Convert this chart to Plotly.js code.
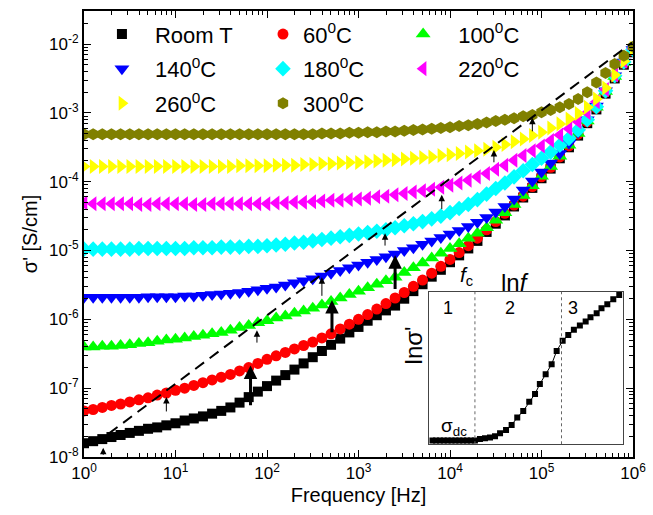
<!DOCTYPE html>
<html><head><meta charset="utf-8">
<script src="https://cdn.plot.ly/plotly-3.0.1.min.js"></script>
<style>html,body{margin:0;padding:0;background:#fff}#chart{width:653px;height:515px}</style>
</head><body><div id="chart"></div><script>
// log10 of frequency [Hz]
const logF = [0.0,0.1,0.2,0.3,0.4,0.5,0.6,0.7,0.8,0.9,1.0,1.1,1.2,1.3,1.4,1.5,1.6,1.7,1.8,1.9,2.0,2.1,2.2,2.3,2.4,2.5,2.6,2.7,2.8,2.9,3.0,3.1,3.2,3.3,3.4,3.5,3.6,3.7,3.8,3.9,4.0,4.1,4.2,4.3,4.4,4.5,4.6,4.7,4.8,4.9,5.0,5.1,5.2,5.3,5.4,5.5,5.6,5.7,5.8,5.9,6.0];
// log10 of sigma' [S/cm]
const roomT = [-7.80,-7.77,-7.74,-7.71,-7.68,-7.65,-7.62,-7.59,-7.57,-7.54,-7.51,-7.47,-7.44,-7.41,-7.37,-7.33,-7.28,-7.21,-7.13,-7.05,-6.97,-6.89,-6.81,-6.73,-6.64,-6.55,-6.46,-6.37,-6.28,-6.19,-6.11,-6.02,-5.94,-5.87,-5.80,-5.70,-5.59,-5.49,-5.38,-5.28,-5.17,-5.07,-4.97,-4.86,-4.73,-4.61,-4.49,-4.36,-4.23,-4.09,-3.95,-3.81,-3.66,-3.50,-3.33,-3.15,-2.95,-2.72,-2.50,-2.30,-2.12];
const t60 = [-7.33,-7.31,-7.28,-7.25,-7.23,-7.20,-7.17,-7.14,-7.10,-7.07,-7.03,-7.00,-6.96,-6.92,-6.88,-6.84,-6.80,-6.75,-6.70,-6.64,-6.58,-6.53,-6.48,-6.43,-6.38,-6.33,-6.27,-6.21,-6.14,-6.07,-6.00,-5.93,-5.85,-5.77,-5.69,-5.61,-5.52,-5.43,-5.33,-5.23,-5.13,-5.03,-4.93,-4.82,-4.70,-4.58,-4.46,-4.34,-4.21,-4.07,-3.93,-3.79,-3.64,-3.48,-3.31,-3.13,-2.93,-2.70,-2.48,-2.28,-2.10];
const t100 = [-6.40,-6.40,-6.39,-6.39,-6.38,-6.37,-6.35,-6.34,-6.32,-6.30,-6.29,-6.27,-6.25,-6.23,-6.21,-6.19,-6.16,-6.12,-6.09,-6.05,-6.02,-5.98,-5.95,-5.91,-5.88,-5.84,-5.79,-5.74,-5.69,-5.64,-5.59,-5.54,-5.49,-5.44,-5.39,-5.32,-5.25,-5.18,-5.11,-5.04,-4.97,-4.90,-4.82,-4.75,-4.67,-4.56,-4.45,-4.33,-4.20,-4.06,-3.92,-3.78,-3.63,-3.47,-3.30,-3.12,-2.92,-2.69,-2.47,-2.27,-2.09];
const t140 = [-5.68,-5.68,-5.68,-5.68,-5.68,-5.68,-5.68,-5.67,-5.67,-5.67,-5.67,-5.66,-5.66,-5.65,-5.64,-5.63,-5.62,-5.61,-5.59,-5.57,-5.55,-5.53,-5.50,-5.47,-5.44,-5.41,-5.37,-5.33,-5.29,-5.25,-5.21,-5.17,-5.13,-5.09,-5.05,-5.00,-4.96,-4.91,-4.86,-4.81,-4.76,-4.71,-4.65,-4.59,-4.52,-4.44,-4.36,-4.25,-4.12,-3.99,-3.86,-3.73,-3.59,-3.44,-3.28,-3.10,-2.90,-2.68,-2.46,-2.26,-2.08];
const t180 = [-4.98,-4.98,-4.98,-4.98,-4.98,-4.98,-4.97,-4.97,-4.97,-4.97,-4.97,-4.97,-4.96,-4.96,-4.96,-4.95,-4.95,-4.95,-4.94,-4.94,-4.93,-4.92,-4.91,-4.89,-4.88,-4.86,-4.84,-4.82,-4.80,-4.78,-4.76,-4.74,-4.72,-4.70,-4.67,-4.64,-4.61,-4.58,-4.54,-4.50,-4.45,-4.39,-4.33,-4.26,-4.18,-4.10,-4.02,-3.93,-3.84,-3.75,-3.66,-3.57,-3.47,-3.37,-3.25,-3.10,-2.91,-2.68,-2.46,-2.26,-2.08];
const t220 = [-4.31,-4.32,-4.32,-4.32,-4.32,-4.32,-4.33,-4.33,-4.32,-4.32,-4.32,-4.32,-4.33,-4.33,-4.32,-4.32,-4.32,-4.32,-4.32,-4.32,-4.32,-4.31,-4.31,-4.30,-4.30,-4.29,-4.28,-4.27,-4.27,-4.26,-4.25,-4.24,-4.22,-4.21,-4.19,-4.17,-4.15,-4.13,-4.11,-4.08,-4.05,-4.02,-3.98,-3.93,-3.88,-3.82,-3.76,-3.69,-3.62,-3.55,-3.48,-3.40,-3.32,-3.23,-3.13,-3.00,-2.84,-2.66,-2.45,-2.25,-2.07];
const t260 = [-3.78,-3.78,-3.78,-3.78,-3.78,-3.78,-3.78,-3.78,-3.78,-3.78,-3.78,-3.78,-3.78,-3.78,-3.78,-3.78,-3.78,-3.77,-3.77,-3.77,-3.77,-3.76,-3.76,-3.76,-3.75,-3.75,-3.74,-3.74,-3.73,-3.72,-3.72,-3.71,-3.70,-3.69,-3.68,-3.67,-3.66,-3.65,-3.64,-3.62,-3.61,-3.59,-3.57,-3.55,-3.53,-3.50,-3.46,-3.42,-3.38,-3.33,-3.28,-3.22,-3.16,-3.09,-3.01,-2.92,-2.80,-2.64,-2.45,-2.25,-2.06];
const t300 = [-3.31,-3.31,-3.31,-3.31,-3.31,-3.31,-3.31,-3.31,-3.31,-3.31,-3.31,-3.31,-3.31,-3.31,-3.31,-3.31,-3.31,-3.31,-3.31,-3.31,-3.31,-3.31,-3.31,-3.31,-3.31,-3.31,-3.30,-3.30,-3.30,-3.29,-3.29,-3.28,-3.28,-3.27,-3.27,-3.26,-3.25,-3.24,-3.23,-3.22,-3.21,-3.19,-3.18,-3.16,-3.14,-3.12,-3.10,-3.08,-3.05,-3.03,-2.99,-2.96,-2.92,-2.87,-2.80,-2.70,-2.56,-2.42,-2.29,-2.17,-2.04];

const seriesNames = ['Room T','60<sup>0</sup>C','100<sup>0</sup>C','140<sup>0</sup>C','180<sup>0</sup>C','220<sup>0</sup>C','260<sup>0</sup>C','300<sup>0</sup>C'];
const seriesData = [roomT, t60, t100, t140, t180, t220, t260, t300];

// dashed guide line (log10 f, log10 sigma)
const dashLogF = [0.27, 5.99];
const dashLogS = [-7.66, -1.98];

// thin arrows marking f_c (log10 f, tip log10 sigma, tail log10 sigma)
const fcLogF = [0.21, 0.90, 1.89, 2.60, 3.29, 3.91, 4.48, 4.90];
const fcTip  = [-7.865, -7.13, -6.16, -5.39, -4.75, -4.19, -3.54, -3.07];
const fcTail = [-7.99, -7.36, -6.36, -5.68, -4.95, -4.42, -3.74, -3.29];
// thick arrows
const bigLogF = [1.82, 2.71, 3.40];
const bigTip  = [-6.67, -5.72, -5.07];
const bigTail = [-7.27, -6.21, -5.58];

// inset (arbitrary units: ln f, ln sigma')
const insetX = [0.15,0.35,0.55,0.75,0.95,1.15,1.35,1.55,1.75,1.95,2.15,2.36,2.62,2.88,3.14,3.40,3.66,3.97,4.26,4.55,4.86,5.17,5.47,5.72,6.02,6.33,6.59,6.90,7.19,7.48,7.79,8.09,8.34,8.66,8.91,9.21,9.52,9.83];
const insetY = [0.24,0.24,0.24,0.24,0.24,0.24,0.24,0.24,0.24,0.24,0.24,0.24,0.35,0.39,0.44,0.52,0.72,0.94,1.27,1.75,2.18,2.79,3.30,3.95,4.59,5.24,6.11,6.77,7.16,7.49,7.77,8.03,8.32,8.58,8.91,9.17,9.50,9.78];
const insetRegionBounds = [2.36, 6.84];
const insetRegionLabels = ['1','2','3'];
const insetRegionLabelX = [0.98, 4.17, 7.45];

const xTickVals = [1,10,100,1000,10000,100000,1000000];
const xTickText = ['10<sup>0</sup>','10<sup>1</sup>','10<sup>2</sup>','10<sup>3</sup>','10<sup>4</sup>','10<sup>5</sup>','10<sup>6</sup>'];
const yTickVals = [1e-8,1e-7,1e-6,1e-5,1e-4,1e-3,1e-2];
const yTickText = ['10<sup>-8</sup>','10<sup>-7</sup>','10<sup>-6</sup>','10<sup>-5</sup>','10<sup>-4</sup>','10<sup>-3</sup>','10<sup>-2</sup>'];

// styles
const FONT = 'Arial, "Liberation Sans", sans-serif';
const symbols = ['square','circle','triangle-up','triangle-down','diamond','triangle-left','triangle-right','hexagon'];
const colors = ['#000000','#ff0000','#00ff00','#0000ff','#00ffff','#ff00ff','#ffff00','#808000'];
const sizes = [10,11,13,13,12,13,13,12];
const legendIds = ['legend','legend2','legend3','legend','legend2','legend3','legend','legend2'];

const pow10 = a => a.map(v => Math.pow(10, v));
const freq = pow10(logF);

const traces = seriesData.map((s, i) => ({
  type: 'scatter', mode: 'markers', x: freq, y: pow10(s), name: seriesNames[i],
  legend: legendIds[i], legendgroup: 'g' + i,
  marker: {symbol: symbols[i], color: colors[i], size: sizes[i], line: {width: 0}},
  cliponaxis: true
}));
traces.push({
  type: 'scatter', mode: 'lines', x: pow10(dashLogF), y: pow10(dashLogS), showlegend: false,
  line: {color: '#000', width: 2, dash: '11px,7px'}
});
traces.push({
  type: 'scatter', mode: 'lines+markers', x: insetX, y: insetY, xaxis: 'x2', yaxis: 'y2', showlegend: false,
  line: {color: '#000', width: 1}, marker: {symbol: 'square', size: 6, color: '#000'}
});

const annotations = [];
fcLogF.forEach((f, i) => annotations.push({
  x: f, y: fcTip[i], ax: f, ay: fcTail[i], xref: 'x', yref: 'y', axref: 'x', ayref: 'y',
  text: '', showarrow: true, arrowhead: 2, arrowsize: 1.3, arrowwidth: 1, arrowcolor: '#000', standoff: 0
}));
bigLogF.forEach((f, i) => annotations.push({
  x: f, y: bigTip[i], ax: f, ay: bigTail[i], xref: 'x', yref: 'y', axref: 'x', ayref: 'y',
  text: '', showarrow: true, arrowhead: 2, arrowsize: 0.9, arrowwidth: 3, arrowcolor: '#000', standoff: 0
}));
insetRegionLabels.forEach((t, i) => annotations.push({
  x: insetRegionLabelX[i], y: 8.9, xref: 'x2', yref: 'y2', text: t, showarrow: false,
  font: {family: FONT, size: 18, color: '#000'}
}));
annotations.push({x: 1.28, y: 1.15, xref: 'x2', yref: 'y2', text: 'σ<sub>dc</sub>', showarrow: false,
  font: {family: FONT, size: 19, color: '#000'}});
annotations.push({x: 0.712, y: 0.406, xref: 'paper', yref: 'paper', text: '<i>f</i><sub>c</sub>', showarrow: false,
  font: {family: FONT, size: 21, color: '#000'}});
annotations.push({x: 0.815, y: 0.392, xref: 'paper', yref: 'paper', text: 'ln<i>f</i>', showarrow: false,
  font: {family: FONT, size: 24, color: '#000'}});
annotations.push({x: 0.600, y: 0.204, xref: 'paper', yref: 'paper', text: "lnσ'", showarrow: false, textangle: -90,
  font: {family: FONT, size: 24, color: '#000'}});

const shapes = insetRegionBounds.map(b => ({
  type: 'line', xref: 'x2', yref: 'y2', x0: b, x1: b, y0: 0, y1: 10,
  line: {color: '#666', width: 1, dash: 'dot'}
}));

const axisCommon = {
  showline: true, linecolor: '#000', linewidth: 2, mirror: 'allticks',
  ticks: 'inside', ticklen: 7, tickwidth: 1, tickcolor: '#000',
  showgrid: false, zeroline: false,
  tickfont: {family: FONT, size: 17, color: '#000'},
  minor: {ticks: 'inside', ticklen: 4, tickwidth: 1, tickcolor: '#000', dtick: 'D1', showgrid: false}
};
const legendCommon = {
  bgcolor: 'rgba(0,0,0,0)', borderwidth: 0, font: {family: FONT, size: 22, color: '#000'},
  xanchor: 'left', yanchor: 'top', y: 0.995, tracegroupgap: 3, itemclick: false
};

const layout = {
  width: 653, height: 515,
  margin: {l: 84, r: 20, t: 11, b: 58},
  paper_bgcolor: '#fff', plot_bgcolor: '#fff',
  font: {family: FONT, color: '#000'},
  xaxis: Object.assign({}, axisCommon, {
    type: 'log', range: [0, 6], tickmode: 'array', tickvals: xTickVals, ticktext: xTickText,
    title: {text: 'Frequency [Hz]', font: {family: FONT, size: 20}, standoff: 6}
  }),
  yaxis: Object.assign({}, axisCommon, {
    type: 'log', range: [-8, -1.52], tickmode: 'array', tickvals: yTickVals, ticktext: yTickText,
    title: {text: "σ' [S/cm]", font: {family: FONT, size: 20}, standoff: 6}
  }),
  xaxis2: {domain: [0.629, 0.981], anchor: 'y2', range: [0, 10], showline: true, mirror: true,
    linecolor: '#444', linewidth: 1, showticklabels: false, ticks: '', showgrid: false, zeroline: false},
  yaxis2: {domain: [0.0285, 0.371], anchor: 'x2', range: [0, 10], showline: true, mirror: true,
    linecolor: '#444', linewidth: 1, showticklabels: false, ticks: '', showgrid: false, zeroline: false},
  legend: Object.assign({}, legendCommon, {x: 0.009, itemwidth: 56}),
  legend2: Object.assign({}, legendCommon, {x: 0.326, itemwidth: 30}),
  legend3: Object.assign({}, legendCommon, {x: 0.554, itemwidth: 60}),
  annotations: annotations,
  shapes: shapes,
  showlegend: true
};

Plotly.newPlot('chart', traces, layout, {displayModeBar: false, staticPlot: true});
</script></body></html>
